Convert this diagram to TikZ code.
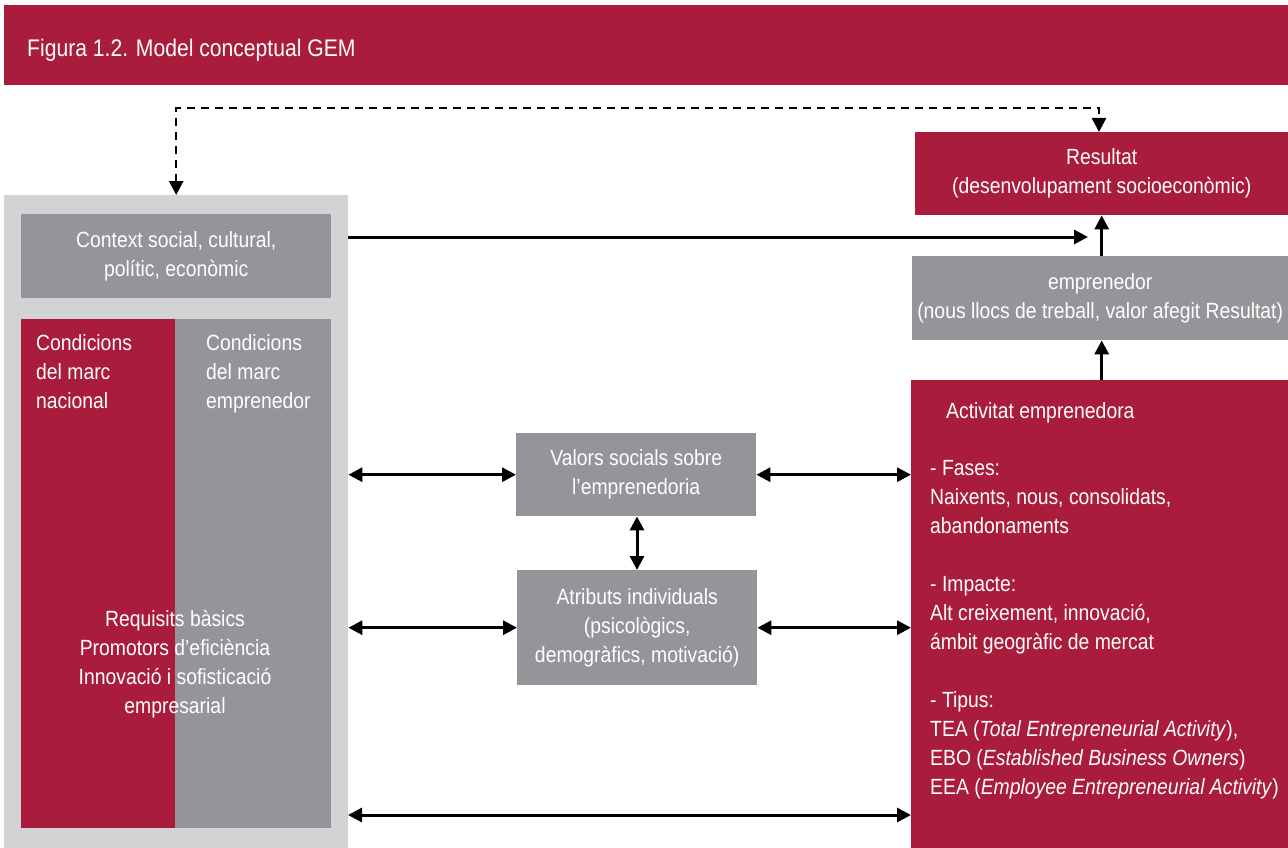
\documentclass[tikz,border=0pt]{standalone}
\usepackage{fontspec}
\setmainfont{Liberation Sans}[FakeStretch=0.88]
\usetikzlibrary{positioning, arrows.meta}
\definecolor{gemred}{HTML}{A91C3B}
\definecolor{gemgrey}{HTML}{939598}
\definecolor{gemlight}{HTML}{D1D3D4}

\begin{document}
\begin{tikzpicture}[x=1pt, y=-1pt, >={Triangle[length=14pt,width=14pt]},
  font=\fontsize{22}{29}\selectfont,
  redbox/.style={fill=gemred, text=white, inner sep=0pt, anchor=north west},
  greybox/.style={fill=gemgrey, text=white, inner sep=0pt, anchor=north west},
  lbl/.style={text=white, inner sep=0pt, anchor=north west, align=left},
  link/.style={line width=3pt}]
  \useasboundingbox (0,0) rectangle (1288,848);

  % Title bar
  \node[redbox, minimum width=1284pt, minimum height=80pt] (title) at (4,5) {};
  \node[lbl, anchor=west, font=\fontsize{24}{29}\selectfont] (titletxt) at (27,50) {Figura 1.2. Model conceptual GEM};

  % Left block
  \node[fill=gemlight, inner sep=0pt, anchor=north west, minimum width=344pt, minimum height=653pt] (outer) at (4,195) {};
  \node[greybox, minimum width=310pt, minimum height=84pt, align=center] (ctx) at (21,214) {Context social, cultural,\\polític, econòmic};
  \node[redbox, minimum width=154pt, minimum height=509pt] (nacional) at (21,319) {};
  \node[greybox, minimum width=156pt, minimum height=509pt] (marcemp) at (175,319) {};
  \node[lbl, below right=15pt and 15pt of nacional.north west, anchor=north west] (nactxt) {Condicions\\del marc\\nacional};
  \node[lbl, below right=15pt and 31pt of marcemp.north west, anchor=north west] (emptxt) {Condicions\\del marc\\emprenedor};
  \node[text=white, inner sep=0pt, align=center] (req) at (175,664) {Requisits bàsics\\Promotors d’eficiència\\Innovació i sofisticació\\empresarial};

  % Middle
  \node[greybox, minimum width=240pt, minimum height=83pt, align=center] (valors) at (516,433) {Valors socials sobre\\l’emprenedoria};
  \node[greybox, minimum width=240pt, minimum height=115pt, align=center] (atributs) at (517,570) {Atributs individuals\\(psicològics,\\demogràfics, motivació)};

  % Right column
  \node[redbox, minimum width=373pt, minimum height=83pt, align=center] (res) at (915,132) {Resultat\\(desenvolupament socioeconòmic)};
  \node[greybox, minimum width=376pt, minimum height=84pt, align=center] (emp) at (912,256) {emprenedor\\(nous llocs de treball, valor afegit Resultat)};
  \node[redbox, minimum width=377pt, minimum height=468pt] (act) at (911,380) {};
  \node[lbl, below right=22pt and 35pt of act.north west, anchor=north west] (acttitle) {Activitat emprenedora};
  \node[lbl, below right=80pt and 19pt of act.north west, anchor=north west] (acttxt) {- Fases:\\Naixents, nous, consolidats,\\abandonaments\\[29pt]
    - Impacte:\\Alt creixement, innovació,\\ámbit geogràfic de mercat\\[29pt]
    - Tipus:\\TEA (\textit{Total Entrepreneurial Activity}),\\EBO (\textit{Established Business Owners})\\EEA (\textit{Employee Entrepreneurial Activity})};

  % Free ends
  \coordinate (ctxa) at (348,237);
  \coordinate (resa) at (1088,237);
  \coordinate (low) at (348,815);
  \coordinate (dtop) at (1099,108);

  % Connections
  \draw[link, ->] (ctxa) -- (resa);
  \draw[link, ->] (emp.north -| res.south) -- (res.south);
  \draw[link, ->] (act.north -| res.south) -- (emp.south -| res.south);
  \draw[link, <->] (outer.east |- valors.west) -- (valors.west);
  \draw[link, <->] (valors.east) -- (act.west |- valors.east);
  \draw[link, <->] (outer.east |- atributs.west) -- (atributs.west);
  \draw[link, <->] (atributs.east) -- (act.west |- atributs.east);
  \draw[link, <->] (low) -- (act.west |- low);
  \draw[link, <->] (valors.south -| 637,0) -- (atributs.north -| 637,0);

  % Feedback
  \draw[line width=2.5pt, dash pattern=on 8pt off 6pt, <->] (outer.north) |- (dtop) -- (res.north -| dtop);
\end{tikzpicture}
\end{document}
